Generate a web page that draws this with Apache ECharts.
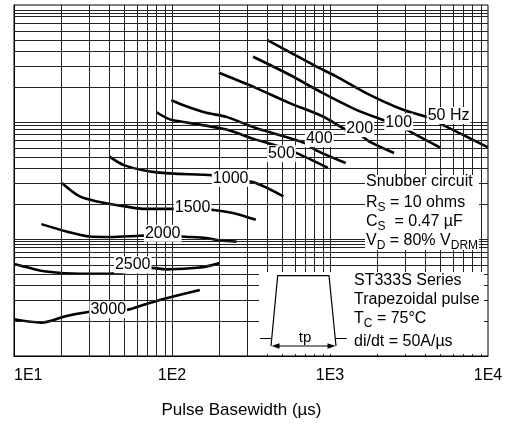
<!DOCTYPE html>
<html>
<head>
<meta charset="utf-8">
<script src="https://cdn.jsdelivr.net/npm/echarts@6/dist/echarts.min.js"></script>
<style>
  html, body { margin: 0; padding: 0; background: #fff; }
  #chart { width: 512px; height: 426px; }
</style>
</head>
<body>
<div id="chart"></div>
<script>
// Peak on-state current vs. pulse basewidth, one curve per repetition frequency
// (log-log: x in µs, y in A)
const hz50   = [[402, 5006], [812, 3000], [1087, 2462], [1682, 1775], [2872, 1277], [4232, 1084], [5400, 919], [10000, 607]];
const hz100  = [[326, 3609], [550, 2546], [895, 1775], [1455, 1277], [2197, 1034], [2722, 932], [3323, 807], [5020, 600]];
const hz200  = [[198, 2633], [339, 1959], [550, 1458], [895, 1119], [1257, 861], [1542, 780], [1766, 684], [2542, 544]];
const hz400  = [[99, 1534], [123, 1363], [165, 1197], [221, 1106], [339, 890], [692, 662], [812, 575], [1257, 446]];
const hz500  = [[80, 1211], [92, 1084], [101.5, 1034], [150, 950], [221, 861], [339, 707], [403, 662], [581, 561], [971, 405]];
const hz1000 = [[40, 508], [50, 426], [80, 371], [182, 350], [235, 331], [339, 301], [507, 231]];
const hz1500 = [[20.1, 301], [26.1, 231], [34.9, 207], [50.4, 190], [65.5, 181], [101.5, 181], [135, 180], [178, 178], [243, 167], [339, 146]];
const hz2000 = [[14.9, 134], [21.5, 116], [30.1, 105], [40.3, 104], [62.5, 106.5], [87.3, 108.6], [114.7, 105], [165, 102], [200, 97], [256, 95]];
const hz2500 = [[10, 61], [12.6, 56.4], [16, 52.7], [26.1, 50.4], [40.3, 50.4], [56.4, 53.4], [74.1, 56.7], [92.2, 55], [150, 57], [200, 62.2]];
const hz3000 = [[10, 20.6], [14.9, 19.3], [21.5, 22], [30.1, 23.9], [39.2, 24.8], [51.4, 24.8], [65.5, 27.3], [92.2, 31.2], [150, 36.7]];

// Curve names and where each name sits on its curve (data coordinates)
const curveNames = ['50 Hz', '100', '200', '400', '500', '1000', '1500', '2000', '2500', '3000'];
const nameAt = [[5630, 1134], [2722, 998], [1542, 878], [855, 721], [493, 536], [235, 331], [135, 187], [87.3, 112], [56.4, 60.1], [39.5, 24.8]];

// Log grid lines
const xGrid = [20, 30, 40, 50, 60, 70, 80, 90, 100, 200, 300, 400, 500, 600, 700, 800, 900, 1000,
               2000, 3000, 4000, 5000, 6000, 7000, 8000, 9000];
const yGrid = [20, 30, 40, 50, 60, 70, 77, 85, 90, 95, 100, 200, 300, 400, 500, 600, 700, 790, 860, 930, 1000,
               2000, 3000, 4000, 5000, 6000, 7000, 8000, 8500, 9000];

const xTickLabels = ['1E1', '1E2', '1E3', '1E4'];
const xTitle = 'Pulse Basewidth (µs)';

const FONT = '"Liberation Sans", Arial, Helvetica, sans-serif';
const curves = [hz50, hz100, hz200, hz400, hz500, hz1000, hz1500, hz2000, hz2500, hz3000];

const series = [];
// grid lines drawn as mark lines on an empty carrier series
series.push({
  type: 'line',
  data: [[10, 10]],
  symbol: 'none',
  lineStyle: { opacity: 0 },
  silent: true,
  z: 1,
  animation: false,
  markLine: {
    silent: true,
    animation: false,
    symbol: ['none', 'none'],
    label: { show: false },
    lineStyle: { color: '#222', width: 1, type: 'solid' },
    emphasis: { disabled: true },
    data: [...xGrid.map(v => ({ xAxis: v })), ...yGrid.map(v => ({ yAxis: v }))]
  }
});
curves.forEach(c => series.push({
  type: 'line',
  data: c,
  smooth: 0.3,
  symbol: 'none',
  silent: true,
  animation: false,
  z: 3,
  lineStyle: { color: '#000', width: 2.6 }
}));
series.push({
  type: 'scatter',
  data: curveNames.map((n, i) => ({ name: n, value: nameAt[i] })),
  symbolSize: 1,
  itemStyle: { color: '#fff', opacity: 1 },
  silent: true,
  animation: false,
  z: 5,
  label: {
    show: true, position: 'inside', formatter: '{b}',
    color: '#000', opacity: 1, fontSize: 16, fontFamily: FONT,
    backgroundColor: '#fff', padding: [1, 1, 0, 1]
  }
});

const T = (text, x, y, extra) => Object.assign({
  type: 'text', z: 12, silent: true,
  style: {
    text, x, y, fill: '#000', font: '16px ' + FONT,
    fontSize: 16, fontFamily: FONT,
    align: 'left', verticalAlign: 'middle',
    rich: { s: { font: '12px ' + FONT, fontSize: 12, fontFamily: FONT, fill: '#000', padding: [10, 0, 0, 0] } }
  }
}, extra || {});

const graphic = [
  // snubber description
  { type: 'rect', z: 10, silent: true, shape: { x: 365, y: 175, width: 114, height: 75 }, style: { fill: '#fff' } },
  T('Snubber circuit', 366, 182),
  T('R{s|S} = 10 ohms', 366, 203),
  T('C{s|S}  = 0.47 µF', 366, 222),
  T('V{s|D} = 80% V{s|DRM}', 366, 241),
  // device / pulse description
  { type: 'rect', z: 10, silent: true, shape: { x: 259, y: 272, width: 225, height: 82 }, style: { fill: '#fff' } },
  T('ST333S Series', 354, 281),
  T('Trapezoidal pulse', 354, 300),
  T('T{s|C} = 75°C', 354, 319),
  T('di/dt = 50A/µs', 354, 342),
  // trapezoid pulse sketch
  { type: 'polyline', z: 11, silent: true, shape: { points: [[271, 346], [277.7, 275.7], [329, 275.7], [336, 346]] },
    style: { stroke: '#000', lineWidth: 1.2, fill: null } },
  { type: 'line', z: 11, silent: true, shape: { x1: 260, y1: 338.5, x2: 271.8, y2: 338.5 }, style: { stroke: '#000', lineWidth: 1 } },
  { type: 'line', z: 11, silent: true, shape: { x1: 335.2, y1: 338.5, x2: 346.7, y2: 338.5 }, style: { stroke: '#000', lineWidth: 1 } },
  { type: 'line', z: 11, silent: true, shape: { x1: 276, y1: 346, x2: 331, y2: 346 }, style: { stroke: '#000', lineWidth: 1.2 } },
  { type: 'polygon', z: 11, silent: true, shape: { points: [[271.5, 346], [279.5, 343.3], [279.5, 348.7]] }, style: { fill: '#000' } },
  { type: 'polygon', z: 11, silent: true, shape: { points: [[335.5, 346], [327.5, 343.3], [327.5, 348.7]] }, style: { fill: '#000' } },
  { type: 'text', z: 12, silent: true, style: { text: 'tp', x: 305, y: 338, fill: '#000', font: '15px ' + FONT, align: 'center', verticalAlign: 'middle' } },
  // x axis title
  { type: 'text', z: 12, silent: true, style: { text: xTitle, x: 241.5, y: 410, fill: '#000', font: '17px ' + FONT, align: 'center', verticalAlign: 'middle' } }
];

const chart = echarts.init(document.getElementById('chart'), null, { renderer: 'canvas' });
chart.setOption({
  animation: false,
  backgroundColor: '#fff',
  grid: { left: 14, top: 5, right: 24, bottom: 70, show: true, borderColor: '#000', borderWidth: 1, backgroundColor: 'transparent' },
  xAxis: {
    type: 'log', logBase: 10, min: 10, max: 10000,
    axisLine: { show: true, lineStyle: { color: '#000', width: 1 } },
    axisTick: { show: false },
    splitLine: { show: false },
    axisLabel: {
      color: '#000', fontSize: 16, fontFamily: FONT, margin: 12, alignMinLabel: 'left',
      formatter: v => xTickLabels[Math.round(Math.log10(v)) - 1] || ''
    }
  },
  yAxis: {
    type: 'log', logBase: 10, min: 10, max: 10000,
    axisLine: { show: true, lineStyle: { color: '#000', width: 1 } },
    axisTick: { show: false },
    splitLine: { show: false },
    axisLabel: { show: false }
  },
  series,
  graphic
});
</script>
</body>
</html>
